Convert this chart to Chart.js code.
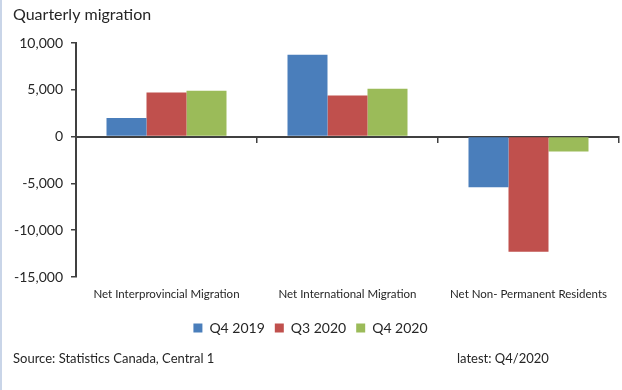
<!DOCTYPE html>
<html>
<head>
<meta charset="utf-8">
<script src="https://cdn.jsdelivr.net/npm/chart.js@4"></script>
<style>
  html, body { margin: 0; padding: 0; background: #fff; }
  .frame { width: 620px; height: 390px; border-left: 2px solid #c9d5e8; }
  canvas { display: block; }
</style>
</head>
<body>
<div class="frame"><canvas id="grafico" width="620" height="390"></canvas></div>
<script>
// categorias e séries
const categorias = ["Net Interprovincial Migration", "Net International Migration", "Net Non- Permanent Residents"];
const q4_2019 = [2000, 8750, -5400];
const q3_2020 = [4700, 4400, -12300];
const q4_2020 = [4900, 5100, -1600];
const ticksY = [-15000, -10000, -5000, 0, 5000, 10000];

const titulo = "Quarterly migration";
const fonte = "Source: Statistics Canada, Central 1";
const ultimo = "latest: Q4/2020";

const corTexto = "#262626";
const corEixo = "#404040";

// título e rodapé desenhados direto no canvas
const textosExtras = {
  id: "textosExtras",
  afterDraw(chart) {
    const ctx = chart.ctx;
    ctx.save();
    ctx.fillStyle = corTexto;
    ctx.textBaseline = "middle";
    ctx.textAlign = "left";
    ctx.font = "16px Lato";
    ctx.fillText(titulo, 11, 15);
    ctx.font = "13px Lato";
    ctx.fillText(fonte, 11, 359);
    ctx.fillText(ultimo, 455, 359);
    ctx.restore();
  },
};

const ctx = document.getElementById("grafico").getContext("2d");
new Chart(ctx, {
  type: "bar",
  data: {
    labels: categorias,
    datasets: [
      { label: "Q4 2019", data: q4_2019, backgroundColor: "#4a7ebb" },
      { label: "Q3 2020", data: q3_2020, backgroundColor: "#c0504d" },
      { label: "Q4 2020", data: q4_2020, backgroundColor: "#9bbb59" },
    ],
  },
  options: {
    responsive: false,
    animation: false,
    layout: { padding: { top: 43, right: 3, bottom: 45, left: 0 } },
    datasets: { bar: { categoryPercentage: 0.663, barPercentage: 1 } },
    plugins: {
      title: { display: false },
      tooltip: { enabled: false },
      legend: {
        position: "bottom",
        labels: {
          font: { family: "Lato", size: 14 },
          color: corTexto,
          boxWidth: 9,
          boxHeight: 9,
          padding: 10,
        },
      },
    },
    scales: {
      x: {
        position: "bottom",
        grid: { display: false },
        border: { display: false },
        ticks: { font: { family: "Lato", size: 11.5 }, color: corTexto, padding: 2, maxRotation: 0 },
        afterFit(scale) { scale.height = 34; },
      },
      // linha do zero com os tracinhos entre categorias
      x2: {
        type: "category",
        position: { y: 0 },
        offset: true,
        grid: { offset: true, drawOnChartArea: false, drawTicks: true, tickLength: 5, color: corEixo, lineWidth: 1.5 },
        border: { display: true, color: corEixo, width: 2 },
        ticks: { display: false },
      },
      y: {
        min: ticksY[0],
        max: ticksY[ticksY.length - 1],
        afterBuildTicks(scale) { scale.ticks = ticksY.map((v) => ({ value: v })); },
        grid: { drawOnChartArea: false, drawTicks: true, tickLength: 5, color: corEixo, lineWidth: 1.5 },
        border: { display: true, color: corEixo, width: 2 },
        ticks: {
          font: { family: "Lato", size: 14 },
          color: corTexto,
          padding: 8,
          callback: (v) => Number(v).toLocaleString("en-US"),
        },
        afterFit(scale) { scale.width = 74; },
      },
    },
  },
  plugins: [textosExtras],
});
</script>
</body>
</html>
